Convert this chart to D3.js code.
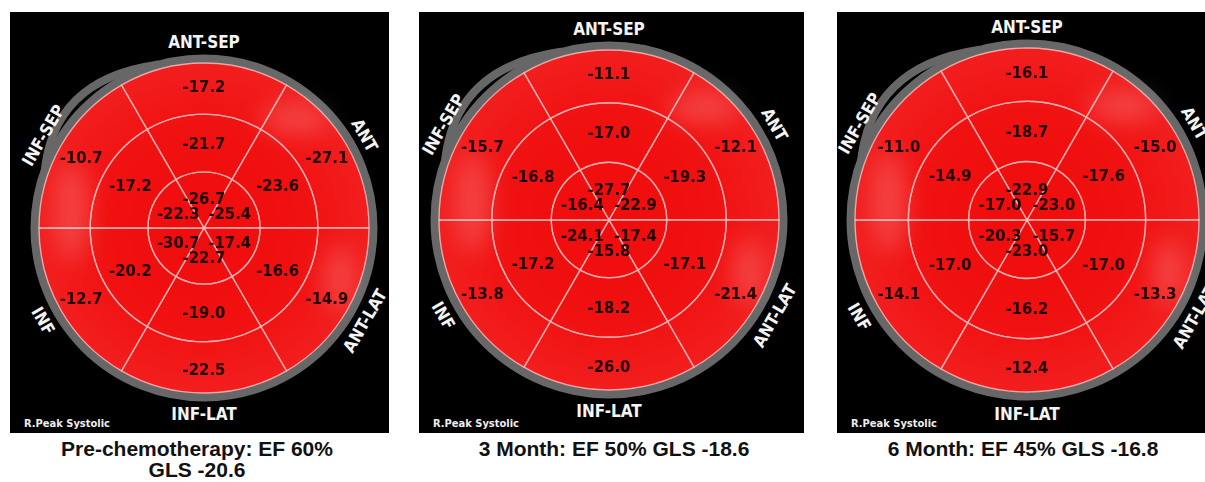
<!DOCTYPE html>
<html>
<head>
<meta charset="UTF-8" />
<title>Bullseye strain</title>
<script src="https://d3js.org/d3.v7.min.js"></script>
<style>
  body { margin: 0; background: #fff; }
</style>
</head>
<body>
<div id="main"></div>
<script type="text/javascript">

// wall names, clockwise from the top
var walls = ['ANT-SEP', 'ANT', 'ANT-LAT', 'INF-LAT', 'INF', 'INF-SEP'];

var titles = [
  ['Pre-chemotherapy: EF 60%', 'GLS -20.6'],
  ['3 Month: EF 50% GLS -18.6'],
  ['6 Month: EF 45% GLS -16.8']
];

// peak systolic strain, same wall order (basal / mid / apical)
var basal1 = [-17.2, -27.1, -14.9, -22.5, -12.7, -10.7];
var mid1   = [-21.7, -23.6, -16.6, -19.0, -20.2, -17.2];
var apex1  = [-26.7, -25.4, -17.4, -22.7, -30.7, -22.3];

var basal2 = [-11.1, -12.1, -21.4, -26.0, -13.8, -15.7];
var mid2   = [-17.0, -19.3, -17.1, -18.2, -17.2, -16.8];
var apex2  = [-27.7, -22.9, -17.4, -15.8, -24.1, -16.4];

var basal3 = [-16.1, -15.0, -13.3, -12.4, -14.1, -11.0];
var mid3   = [-18.7, -17.6, -17.0, -16.2, -17.0, -14.9];
var apex3  = [-22.9, -23.0, -15.7, -23.0, -20.3, -17.0];

var panels = [
  {box: [10, 389], cx: 204, cy: 228, R: 165, tx: 197, rings: [apex1, mid1, basal1], title: titles[0]},
  {box: [419, 804], cx: 609, cy: 220, R: 170, tx: 614, rings: [apex2, mid2, basal2], title: titles[1]},
  {box: [837, 1205], cx: 1027, cy: 220, R: 172, tx: 1023, rings: [apex3, mid3, basal3], title: titles[2]}
];

var width = 1205, height = 482;

var svg = d3.select('#main').append('svg')
  .attr('width', width)
  .attr('height', height);

var defs = svg.append('defs');
var grad = defs.append('radialGradient').attr('id', 'redgrad');
grad.append('stop').attr('offset', '0%').attr('stop-color', '#f00808');
grad.append('stop').attr('offset', '60%').attr('stop-color', '#f01212');
grad.append('stop').attr('offset', '100%').attr('stop-color', '#f33030');
defs.append('filter').attr('id', 'blur').append('feGaussianBlur').attr('stdDeviation', 12);
defs.append('filter').attr('id', 'soft').append('feGaussianBlur').attr('stdDeviation', 0.3);

// strain -> colour (everything here is well below -10, so all red)
var color = d3.scaleThreshold().domain([-10, -5]).range(['#f01010', '#f5a0a0', '#ffffff']);

var ringEdges = [0, 0.34, 0.69, 1];
var deg = Math.PI / 180;

panels.forEach(function(p, pi) {
  var g = svg.append('g');

  g.append('rect')
    .attr('x', p.box[0]).attr('y', 12)
    .attr('width', p.box[1] - p.box[0]).attr('height', 421)
    .attr('fill', '#000');

  var r = d3.scaleLinear().domain([0, 1]).range([0, p.R]);
  var c = g.append('g').attr('transform', 'translate(' + p.cx + ',' + p.cy + ')');

  // grey rim and the odd outer bulge at top-left
  c.append('circle').attr('r', p.R + 4).attr('fill', 'none')
    .attr('stroke', '#676767').attr('stroke-width', 9);
  var pol = function(a, rr) { return [rr * Math.sin(a * deg), -rr * Math.cos(a * deg)]; };
  var a0 = pol(-72, p.R + 3), a2 = pol(-16, p.R + 5), m = pol(-45, p.R + 16);
  var ctrl = [2 * m[0] - (a0[0] + a2[0]) / 2, 2 * m[1] - (a0[1] + a2[1]) / 2];
  var bp = d3.path();
  bp.moveTo(a0[0], a0[1]);
  bp.quadraticCurveTo(ctrl[0], ctrl[1], a2[0], a2[1]);
  c.append('path').attr('d', bp.toString()).attr('fill', 'none')
    .attr('stroke', '#676767').attr('stroke-width', 8).attr('stroke-linecap', 'round');

  // base disc
  c.append('circle').attr('r', r(1)).attr('fill', 'url(#redgrad)');

  var seg = d3.arc();
  var cells = [];
  p.rings.forEach(function(vals, ri) {
    vals.forEach(function(v, i) {
      cells.push({
        value: v,
        ring: ri,
        innerRadius: r(ringEdges[ri]),
        outerRadius: r(ringEdges[ri + 1]),
        startAngle: (i * 60 - 30) * deg,
        endAngle: (i * 60 + 30) * deg
      });
    });
  });

  c.append('g').selectAll('path').data(cells).enter().append('path')
    .attr('d', seg)
    .attr('fill', function(d) { return color(d.value); })
    .attr('fill-opacity', 0.55)
    .attr('stroke', '#f6b8b8')
    .attr('stroke-opacity', 0.85)
    .attr('stroke-width', 1.4);

  // glossy highlights
  var gl = c.append('g').attr('filter', 'url(#blur)').attr('opacity', 0.2);
  gl.append('ellipse').attr('cx', -r(0.8)).attr('cy', -r(0.1)).attr('rx', 16).attr('ry', 50).attr('fill', '#fff');
  gl.append('ellipse').attr('cx', r(0.55)).attr('cy', -r(0.66)).attr('rx', 34).attr('ry', 14).attr('fill', '#fff');
  gl.append('ellipse').attr('cx', r(0.82)).attr('cy', r(0.3)).attr('rx', 14).attr('ry', 32).attr('fill', '#fff');

  // values: apical ones sit a little off-centre like the original
  var labelR = [0.18, 0.515, 0.86];
  c.append('g').selectAll('text').data(cells).enter().append('text')
    .attr('transform', function(d) {
      var ct = seg.centroid(d);
      var k = r(labelR[d.ring]) / Math.hypot(ct[0], ct[1]);
      return 'translate(' + [ct[0] * k, ct[1] * k] + ')';
    })
    .attr('text-anchor', 'middle')
    .attr('dominant-baseline', 'central')
    .attr('font-family', '"DejaVu Sans Condensed", "DejaVu Sans", sans-serif')
    .attr('font-weight', 'bold')
    .attr('font-size', 16.5)
    .attr('fill', '#220404')
    .attr('filter', 'url(#soft)')
    .text(function(d) { return d.value.toFixed(1); });

  // wall labels
  c.append('g').selectAll('text').data(walls).enter().append('text')
    .attr('transform', function(d, i) {
      var a = i * 60;
      var pt = pol(a, r(1.125));
      var rot = (a > 90 && a < 270) ? a - 180 : (a > 180 ? a - 360 : a);
      return 'translate(' + pt + ') rotate(' + rot + ')';
    })
    .attr('text-anchor', 'middle')
    .attr('dominant-baseline', 'central')
    .attr('font-family', '"DejaVu Sans Condensed", "DejaVu Sans", sans-serif')
    .attr('font-weight', 'bold')
    .attr('font-size', 17)
    .attr('fill', '#f4f4f4')
    .text(function(d) { return d; });

  g.append('text')
    .attr('x', p.box[0] + 14).attr('y', 427)
    .attr('font-family', '"DejaVu Sans Condensed", "DejaVu Sans", sans-serif')
    .attr('font-weight', 'bold')
    .attr('font-size', 11)
    .attr('fill', '#eee')
    .text('R.Peak Systolic');

  g.append('g').selectAll('text').data(p.title).enter().append('text')
    .attr('x', p.tx)
    .attr('y', function(d, i) { return 456 + i * 21; })
    .attr('text-anchor', 'middle')
    .attr('font-family', '"Liberation Sans", Arial, sans-serif')
    .attr('font-weight', 'bold')
    .attr('font-size', 21)
    .attr('fill', '#111')
    .text(function(d) { return d; });
});
</script>
</body>
</html>
